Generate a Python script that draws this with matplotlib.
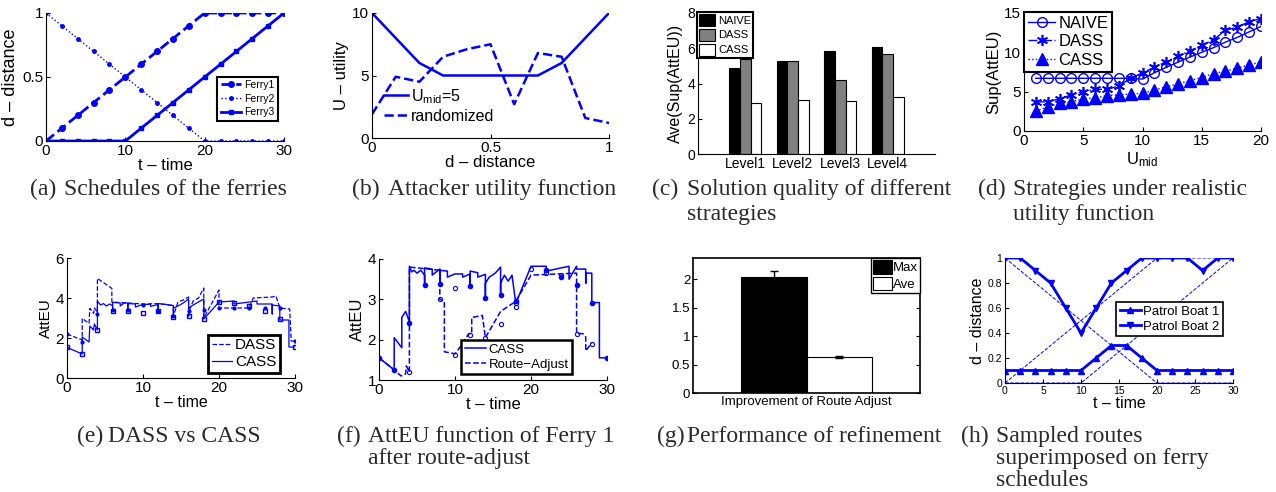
import numpy as np
import matplotlib
matplotlib.use('Agg')
import matplotlib.pyplot as plt

W, H = 1276, 492
plt.rcParams['font.family'] = ['Liberation Sans', 'DejaVu Sans']
plt.rcParams['mathtext.default'] = 'regular'
BLUE = (0, 0, 1)

# (a) ferry schedules, also reused in (h)
t_sched = [0, 2, 4, 6, 8, 10, 12, 14, 16, 18, 20, 22, 24, 26, 28, 30]
ferry1 = [0, .1, .2, .3, .4, .5, .6, .7, .8, .9, 1, 1, 1, 1, 1, 1]
ferry2 = [1, .9, .8, .7, .6, .5, .4, .3, .2, .1, 0, 0, 0, 0, 0, 0]
ferry3 = [0, 0, 0, 0, 0, 0, .1, .2, .3, .4, .5, .6, .7, .8, .9, 1]

# (b) attacker utility
d_util = [0, .1, .2, .3, .4, .5, .6, .7, .8, .9, 1]
u_mid5 = [10, 8, 6, 5, 5, 5, 5, 5, 6, 8, 10]
u_rand = [1.9, 4.9, 4.5, 6.5, 7.1, 7.5, 2.7, 6.8, 6.5, 1.6, 1.2]

# (c) solution quality
levels = ['Level1', 'Level2', 'Level3', 'Level4']
naive_c = [4.9, 5.28, 5.85, 6.08]
dass_c = [5.37, 5.26, 4.2, 5.66]
cass_c = [2.9, 3.07, 3.0, 3.22]

# (d) realistic utility
u_mid = list(range(1, 21))
naive_d = [6.7, 6.7, 6.7, 6.7, 6.7, 6.7, 6.7, 6.7, 6.7, 6.6, 7.4, 8.1, 8.75, 9.4, 10.0, 10.6, 11.3, 11.9, 12.6, 13.3]
dass_d = [3.7, 3.7, 4.1, 4.6, 5.0, 5.3, 5.3, 5.7, 6.7, 7.4, 8.1, 8.8, 9.5, 10.2, 10.9, 11.6, 12.8, 13.2, 13.9, 14.3]
cass_d = [2.5, 3.1, 3.5, 3.7, 4.1, 4.2, 4.5, 4.6, 4.7, 4.8, 5.2, 5.6, 6.0, 6.4, 6.8, 7.3, 7.6, 8.0, 8.4, 8.8]

# (e) DASS vs CASS
e_cass_t = [0, 2, 2, 2.9, 3, 3.5, 3.6, 4, 4, 4.4, 4.8, 5.2, 5.6, 6, 6, 6, 7, 7, 7.5, 8, 8, 8, 9, 9, 10, 11, 11, 12, 12, 12,
            13, 14, 14, 14, 14.6, 15.3, 16, 16, 16, 16.6, 17.3, 18, 18, 20, 22, 22, 25, 25, 27, 27, 27, 28, 28, 29.2, 29.2, 30]
e_cass_y = [1.53, 1.2, 2.05, 1.8, 2.6, 2.4, 2.7, 2.4, 3.85, 3.65, 3.72, 3.6, 3.7, 3.62, 3.35, 3.78, 3.75, 3.6, 3.75, 3.75, 3.35, 3.72, 3.7, 3.55, 3.68, 3.68, 3.58, 3.68, 3.35, 3.72,
            3.68, 3.62, 3.05, 3.5, 3.6, 3.75, 3.95, 3.1, 3.5, 3.65, 3.8, 3.95, 2.95, 3.8, 3.85, 3.7, 3.85, 3.7, 3.7, 3.2, 3.65, 3.6, 2.9, 2.9, 1.55, 1.55]
e_dass_t = [0, 2, 2, 2.9, 3, 3.5, 3.6, 4, 4, 5.9, 5.9, 8, 10, 12, 14, 14, 14.6, 15.3, 16, 16, 16.6, 17.3, 18, 18,
            20, 20, 24, 24, 24.5, 27, 27.5, 28, 29.3, 29.5, 30]
e_dass_y = [2.2, 1.9, 2.98, 2.73, 3.48, 3.23, 3.5, 3.3, 4.98, 4.48, 3.8, 3.75, 3.7, 3.72, 3.62, 3.1, 3.8, 3.9, 4.05, 3.3, 3.85, 4.0, 4.5, 3.0,
            4.4, 3.5, 3.5, 3.55, 4.0, 4.05, 4.1, 3.5, 3.45, 1.85, 1.85]
e_mark_t = [0, 2, 4, 6, 8, 10, 12, 14, 16, 18, 20, 22, 24, 26, 28, 30]
e_cass_m = [1.53, 1.2, 2.4, 3.35, 3.35, 3.27, 3.35, 3.05, 3.1, 2.93, 3.78, 3.75, 3.6, 3.35, 2.93, 1.57]
e_dass_m = [2.2, 1.8, 3.2, 3.4, 3.4, 3.65, 3.35, 3.1, 3.35, 3.4, 3.5, 3.5, 3.5, 3.5, 3.5, 1.85]

# (f) AttEU of ferry 1 after route-adjust
f_cass_t = [0, 2, 2, 3, 3, 3.5, 3.8, 4, 4, 4.3, 4.6, 5, 5.5, 6, 6, 6, 7, 7, 8, 8, 8, 9, 9, 10, 11, 11, 12, 12, 12,
            13, 13, 14, 14, 14, 14.5, 15.3, 16, 16, 16, 16.5, 17, 17.5, 18, 18, 20, 22, 22, 25, 25, 26, 26,
            27.2, 27.2, 27.2, 28, 28, 29, 29, 30]
f_cass_y = [1.55, 1.25, 2.05, 1.8, 2.55, 2.7, 2.55, 2.42, 3.82, 3.68, 3.72, 3.65, 3.72, 3.6, 3.35, 3.78, 3.75, 3.6, 3.75, 3.38, 3.72, 3.7, 3.55, 3.63, 3.63, 3.55, 3.63, 3.33, 3.7,
            3.66, 3.55, 3.62, 3.03, 3.4, 3.55, 3.65, 3.8, 3.1, 3.4, 3.6, 3.45, 3.6, 2.9, 2.9, 3.82, 3.82, 3.7, 3.82, 3.5, 3.82, 3.75,
            3.75, 3.4, 3.65, 3.65, 2.92, 2.92, 1.55, 1.55]
f_adj_t = [0, 2, 2.9, 3.5, 3.6, 4, 4, 4, 8, 8, 8.6, 8.6, 10, 11, 11.8, 12.2, 12.2, 13.6, 14, 16, 18, 20, 26, 26,
           26.8, 27.2, 27.2, 28]
f_adj_y = [1.55, 1.25, 1.1, 1.15, 1.35, 1.2, 2.42, 3.8, 3.72, 3.0, 2.95, 1.7, 1.65, 1.9, 2.15, 2.15, 2.55, 2.6, 2.05, 2.7, 2.95, 3.6, 3.65, 2.15,
           2.15, 2.07, 1.72, 1.92]
f_cass_mt = [0, 2, 4, 6, 8, 12, 14, 16, 18, 22, 24, 26, 28, 30]
f_cass_my = [1.55, 1.25, 2.42, 3.35, 3.38, 3.33, 3.03, 3.1, 2.95, 3.72, 3.55, 3.35, 2.92, 1.55]
f_adj_mt = [4, 8, 10, 10, 12, 14, 16, 18, 18, 20, 22, 24, 26, 28, 30]
f_adj_my = [1.2, 3.0, 1.62, 3.27, 2.12, 2.05, 2.4, 2.82, 2.9, 3.75, 3.65, 3.6, 2.15, 1.9, 1.55]

# (g) refinement
g_names = ['Max', 'Ave']
g_vals = [2.03, 0.63]
g_errs = [0.12, 0.02]

# (h) patrol boats
boat1 = [.1, .1, .1, .1, .1, .1, .2, .3, .3, .2, .1, .1, .1, .1, .1, .1]
boat2 = [1, 1, .9, .8, .6, .4, .6, .8, .9, 1, 1, 1, 1, .9, 1, 1]

fig = plt.figure(figsize=(W / 100, H / 100), dpi=100)


def add_box(l, t, r, b):
    return fig.add_axes([l / W, 1 - b / H, (r - l) / W, (b - t) / H])


def style(ax, fs=10, box=False):
    for s in ['top', 'right']:
        ax.spines[s].set_visible(box)
    ax.tick_params(direction='in', labelsize=fs, length=3, width=0.8, top=box, right=box, pad=2)


def frame(leg, lw=1.0):
    f = leg.get_frame()
    f.set_edgecolor('black')
    f.set_linewidth(lw)
    f.set_facecolor('white')
    f.set_alpha(1)


def caption(lab, lines, xl, xt, y0, dy):
    kw = dict(family='Liberation Serif', fontsize=17, va='baseline', color='#2a2a2a')
    fig.text(xl / W, 1 - y0 / H, lab, **kw)
    for i, ln in enumerate(lines):
        fig.text(xt / W, 1 - (y0 + i * dy) / H, ln, **kw)


# (a)
ax = add_box(46, 13, 284, 141)
ax.plot(t_sched, ferry1, '--o', color=BLUE, lw=2, ms=4, label='Ferry1')
ax.plot(t_sched, ferry2, ':o', color=BLUE, lw=1, ms=2.5, label='Ferry2')
ax.plot(t_sched, ferry3, '-s', color=BLUE, lw=2, ms=3, label='Ferry3')
ax.set_xlim(0, 30)
ax.set_ylim(0, 1)
ax.set_xticks([0, 10, 20, 30])
ax.set_yticks([0, 0.5, 1])
ax.set_yticklabels(['0', '0.5', '1'])
style(ax, 11)
ax.set_xlabel('t – time', fontsize=12, labelpad=0)
ax.set_ylabel('d – distance', fontsize=13, labelpad=2)
leg = ax.legend(loc='upper right', bbox_to_anchor=(0.975, 0.5), fontsize=7.5, fancybox=False,
                borderpad=0.3, labelspacing=0.35, handlelength=2.0, handletextpad=0.3, borderaxespad=0)
frame(leg, 1.5)

# (b)
ax = add_box(372, 13, 609, 138)
ax.plot(d_util, u_mid5, '-', color=BLUE, lw=1.8, label='U$_{mid}$=5')
ax.plot(d_util, u_rand, '--', color=BLUE, lw=1.8, label='randomized')
ax.set_xlim(0, 1)
ax.set_ylim(0, 10)
ax.set_xticks([0, 0.5, 1])
ax.set_xticklabels(['0', '0.5', '1'])
ax.set_yticks([0, 5, 10])
style(ax, 11)
ax.set_xlabel('d – distance', fontsize=12, labelpad=0)
ax.set_ylabel('U – utility', fontsize=12, labelpad=2)
ax.legend(loc='center left', bbox_to_anchor=(-0.01, 0.26), fontsize=11.5, frameon=False,
          handlelength=1.5, handletextpad=0.2, labelspacing=0.2)

# (c)
ax = add_box(698, 13, 935, 154)
x = np.arange(1, len(levels) + 1)
w = 0.225
ax.bar(x - w, naive_c, w, color='black', edgecolor='black', lw=0.8, label='NAIVE')
ax.bar(x, dass_c, w, color='#808080', edgecolor='black', lw=0.8, label='DASS')
ax.bar(x + w, cass_c, w, color='white', edgecolor='black', lw=0.8, label='CASS')
ax.set_xlim(0, 5)
ax.set_ylim(0, 8)
ax.set_xticks(x)
ax.set_xticklabels(levels)
ax.set_yticks([0, 2, 4, 6, 8])
style(ax, 10)
ax.tick_params(axis='x', length=0)
ax.set_ylabel('Ave(Sup(AttEU))', fontsize=11.5, labelpad=3)
leg = ax.legend(loc='upper left', bbox_to_anchor=(-0.005, 1.01), fontsize=8, fancybox=False,
                borderpad=0.2, labelspacing=0.25, handlelength=1.4, handleheight=1.3, handletextpad=0.3,
                borderaxespad=0)
frame(leg, 1.5)

# (d)
ax = add_box(1024, 13, 1261, 131)
ax.plot(u_mid, naive_d, '-o', color=BLUE, lw=1, ms=7, mfc='none', label='NAIVE')
ax.plot(u_mid, dass_d, '-.', marker=(6, 2, 0), color=BLUE, lw=1, ms=8, mew=1.2, label='DASS')
ax.plot(u_mid, cass_d, ':^', color=BLUE, lw=1, ms=8, label='CASS')
ax.set_xlim(0, 20)
ax.set_ylim(0, 15)
ax.set_xticks([0, 5, 10, 15, 20])
ax.set_yticks([0, 5, 10, 15])
style(ax, 11)
ax.set_xlabel('U$_{mid}$', fontsize=12, labelpad=2)
ax.set_ylabel('Sup(AttEU)', fontsize=12, labelpad=2)
leg = ax.legend(loc='upper left', bbox_to_anchor=(0, 1.01), fontsize=12, fancybox=False,
                borderpad=0.25, labelspacing=0.2, handlelength=1.6, handletextpad=0.2, borderaxespad=0)
frame(leg, 1.5)

# (e)
ax = add_box(67, 258, 295, 378)
ax.plot(e_dass_t, e_dass_y, '--', color=BLUE, lw=0.9, label='DASS')
ax.plot(e_cass_t, e_cass_y, '-', color=BLUE, lw=0.9, label='CASS')
ax.plot(e_mark_t, e_dass_m, 'o', color=BLUE, ms=2)
ax.plot(e_mark_t, e_cass_m, 's', color=BLUE, ms=2.5, mfc='none')
ax.set_xlim(0, 30)
ax.set_ylim(0, 6)
ax.set_xticks([0, 10, 20, 30])
ax.set_yticks([0, 2, 4, 6])
style(ax, 11)
ax.set_xlabel('t – time', fontsize=11.5, labelpad=0)
ax.set_ylabel('AttEU', fontsize=11, labelpad=2)
leg = ax.legend(loc='lower right', bbox_to_anchor=(0.935, 0.04), fontsize=11, fancybox=False,
                borderpad=0.25, labelspacing=0.2, handlelength=1.3, handletextpad=0.2, borderaxespad=0)
frame(leg, 2)

# (f)
ax = add_box(379, 259, 607, 380)
ax.plot(f_cass_t, f_cass_y, '-', color=BLUE, lw=1.1, label='CASS')
ax.plot(f_adj_t, f_adj_y, '--', color=BLUE, lw=1.1, label='Route−Adjust')
ax.plot(f_cass_mt, f_cass_my, 'o', color=BLUE, ms=3)
ax.plot(f_adj_mt, f_adj_my, 'o', color=BLUE, ms=3, mfc='none', mew=0.8)
ax.set_xlim(0, 30)
ax.set_ylim(1, 4)
ax.set_xticks([0, 10, 20, 30])
ax.set_yticks([1, 2, 3, 4])
style(ax, 11)
ax.set_xlabel('t – time', fontsize=12, labelpad=0)
ax.set_ylabel('AttEU', fontsize=12, labelpad=2)
leg = ax.legend(loc='lower right', bbox_to_anchor=(0.846, 0.05), fontsize=9.5, fancybox=False,
                borderpad=0.25, labelspacing=0.2, handlelength=1.6, handletextpad=0.2, borderaxespad=0)
frame(leg, 1.8)

# (g)
ax = add_box(693, 258, 920, 393)
gw = 0.289
ax.bar(1 - gw / 2, g_vals[0], gw, yerr=g_errs[0], color='black', edgecolor='black', lw=0.8,
       capsize=3, error_kw=dict(lw=1, capthick=1), label=g_names[0])
ax.bar(1 + gw / 2, g_vals[1], gw, yerr=g_errs[1], color='white', edgecolor='black', lw=0.8,
       capsize=3, error_kw=dict(lw=1, capthick=1), label=g_names[1])
ax.set_xlim(0.5, 1.5)
ax.set_ylim(0, 2.37)
ax.set_xticks([1])
ax.set_xticklabels(['Improvement of Route Adjust'])
ax.set_yticks([0, 0.5, 1, 1.5, 2])
ax.set_yticklabels(['0', '0.5', '1', '1.5', '2'])
style(ax, 9.5, box=True)
for s in ax.spines.values():
    s.set_linewidth(1.2)
ax.tick_params(axis='x', length=0)
leg = ax.legend(loc='upper right', bbox_to_anchor=(1, 1), fontsize=9.5, fancybox=False,
                borderpad=0.15, labelspacing=0.2, handlelength=1.4, handleheight=1.2, handletextpad=0.1,
                borderaxespad=0)
frame(leg, 1)

# (h)
ax = add_box(1005, 258, 1233, 383)
for f in (ferry1, ferry2, ferry3):
    ax.plot(t_sched, f, '--', color=BLUE, lw=0.7)
ax.plot(t_sched, boat1, '-^', color=BLUE, lw=2, ms=5, label='Patrol Boat 1')
ax.plot(t_sched, boat2, '-v', color=BLUE, lw=2, ms=5, label='Patrol Boat 2')
ax.set_xlim(0, 30)
ax.set_ylim(0, 1)
ax.set_xticks([0, 5, 10, 15, 20, 25, 30])
ax.set_yticks([0, 0.2, 0.4, 0.6, 0.8, 1])
ax.set_yticklabels(['0', '0.2', '0.4', '0.6', '0.8', '1'])
style(ax, 7.5)
ax.set_xlabel('t – time', fontsize=11.5, labelpad=0)
ax.set_ylabel('d – distance', fontsize=11.5, labelpad=2)
leg = ax.legend(loc='upper right', bbox_to_anchor=(0.956, 0.645), fontsize=9.5, fancybox=False,
                borderpad=0.25, labelspacing=0.2, handlelength=1.6, handletextpad=0.2, borderaxespad=0)
frame(leg, 1.2)

# captions
caption('(a)', ['Schedules of the ferries'], 30, 64, 195, 25)
caption('(b)', ['Attacker utility function'], 352, 388, 195, 25)
caption('(c)', ['Solution quality of different', 'strategies'], 652, 687, 195, 25)
caption('(d)', ['Strategies under realistic', 'utility function'], 978, 1013, 195, 25)
caption('(e)', ['DASS vs CASS'], 77, 108, 442, 22)
caption('(f)', ['AttEU function of Ferry 1', 'after route-adjust'], 337, 368, 442, 22)
caption('(g)', ['Performance of refinement'], 657, 687, 442, 22)
caption('(h)', ['Sampled routes', 'superimposed on ferry', 'schedules'], 961, 996, 442, 22)

fig.savefig('out.png', dpi=100)
